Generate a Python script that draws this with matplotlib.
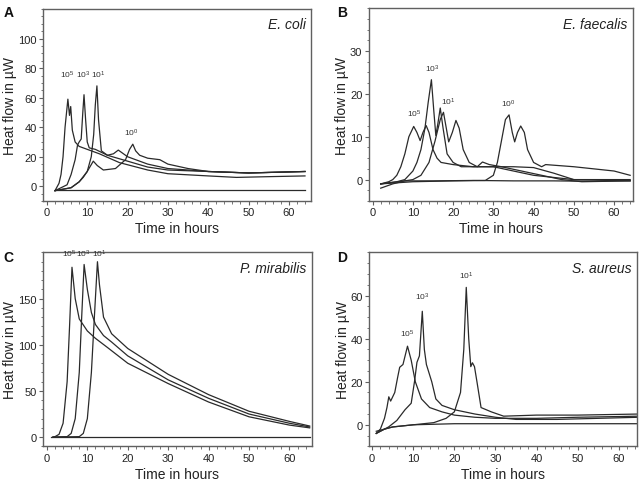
import matplotlib
matplotlib.use("Agg")
import matplotlib.pyplot as plt
from matplotlib.ticker import MultipleLocator

plt.rcParams['font.family'] = ['Liberation Sans', 'DejaVu Sans']
plt.rcParams['mathtext.fontset'] = 'custom'
plt.rcParams['mathtext.rm'] = 'Liberation Sans'

# ---------------- Panel A: E. coli ----------------
a_t_e5 = [2, 3, 3.5, 4, 4.5, 5.2, 5.6, 5.9, 6.3, 7, 8, 9, 10, 13, 18, 25, 30, 40, 47, 55, 64]
a_v_e5 = [-3, 2, 8, 20, 40, 59, 48, 54, 38, 30, 27, 26, 25, 22, 16, 11, 8.5, 7, 6, 6.5, 7]
a_t_e3 = [2, 5, 6, 7, 7.6, 8, 8.5, 8.9, 9.2, 9.6, 10, 10.5, 12, 15, 20, 25, 30, 40, 50, 64]
a_v_e3 = [-3, 1, 8, 18, 28, 30, 32, 50, 62, 45, 30, 26, 25, 21, 17, 13, 11, 10, 9, 10]
a_t_e1 = [2, 6, 8, 9, 10, 11, 11.6, 12, 12.4, 12.8, 13.5, 15, 16.5, 17.7, 20, 25, 30, 40, 50, 64]
a_v_e1 = [-3, -1, 3, 6, 10, 20, 35, 55, 68, 45, 24, 21, 22, 24.5, 20, 15, 12, 10, 9, 10]
a_t_e0 = [2, 6, 8, 10, 11.5, 12.5, 14, 17, 19.5, 20.5, 21.3, 22, 23, 25, 28, 30, 35, 40, 50, 64]
a_v_e0 = [-3, -1, 3, 10, 17, 14, 11, 12, 18, 25, 28.5, 24, 21, 19, 18, 15, 12, 10, 9, 10]
a_t_ctl = [2, 64]
a_v_ctl = [-2.5, -2.5]

# ---------------- Panel B: E. faecalis ----------------
b_t_e5 = [2, 4, 5, 6, 7, 8, 9, 10.2, 11, 11.8, 12.5, 13.3, 14, 15, 16, 17, 20, 25, 30, 35, 40, 45, 50, 64]
b_v_e5 = [-1, -0.5, 0, 1, 3, 6, 10, 12.4, 11, 9.1, 11, 12.6, 11, 7, 5, 4, 3.5, 3, 3, 3, 2.8, 1.5, 0, 0]
b_t_e3 = [2, 6, 8, 10, 11, 12, 13, 13.8, 14.6, 15.2, 15.7, 16.2, 16.8, 17.5, 18.5, 20, 22, 26, 30, 35, 40, 45, 50, 64]
b_v_e3 = [-1, -0.5, 0, 2, 4, 7, 12, 18, 23.3, 16, 10.3, 13, 16.7, 12, 6, 4, 3, 3, 3, 2, 1, 0.5, 0, -0.3]
b_t_e1 = [2, 8, 10, 12, 14, 15.5, 16.8, 17.6, 18.3, 18.9, 19.8, 20.7, 21.5, 22.5, 24, 26, 27.3, 29, 32, 37, 42, 47, 52, 64]
b_v_e1 = [-1, -0.3, 0, 1, 4, 9, 14, 15.7, 12, 8.8, 11, 13.8, 12, 7, 4, 3, 4.1, 3.5, 3, 2, 1, 0, -0.5, -0.3]
b_t_e0 = [2, 10, 20, 28, 30, 31, 32, 33, 33.9, 34.7, 35.3, 36, 36.8, 37.7, 38.5, 40, 42, 43, 50, 55, 60, 64]
b_v_e0 = [-1, -0.5, -0.3, -0.2, 1, 4, 9, 14, 15.1, 11, 8.8, 11, 12.5, 11, 7, 4, 3, 3.5, 3, 2.5, 2, 1]
b_t_ctl = [2, 5, 8, 15, 25, 35, 45, 55, 64]
b_v_ctl = [-2, -1, -0.3, -0.3, -0.2, -0.3, -0.3, -0.4, -0.2]

# ---------------- Panel C: P. mirabilis ----------------
c_t_e5 = [1.5, 2, 3, 4, 5, 5.6, 6.2, 7, 8, 10, 12, 15, 20, 30, 40, 50, 60, 65]
c_v_e5 = [0, 0.5, 3, 15, 60, 120, 184, 150, 128, 115, 107, 97, 80, 58, 38, 22, 13, 10]
c_t_e3 = [1.5, 5, 6, 7, 8, 8.6, 9.2, 10, 11, 12, 14, 16, 20, 30, 40, 50, 60, 65]
c_v_e3 = [0, 0.5, 4, 20, 70, 130, 187, 160, 135, 122, 110, 103, 88, 62, 42, 25, 15, 11]
c_t_e1 = [1.5, 8, 9, 10, 11, 11.8, 12.5, 13, 14, 16, 18, 20, 25, 30, 40, 50, 60, 65]
c_v_e1 = [0, 0.5, 4, 20, 70, 135, 190, 165, 130, 112, 104, 96, 82, 68, 46, 28, 17, 12]
c_t_ctl = [1, 65]
c_v_ctl = [0, 0]

# ---------------- Panel D: S. aureus ----------------
d_t_e5 = [1, 2, 3, 3.6, 4.05, 4.5, 5.5, 6.2, 6.7, 7.5, 8.6, 9.5, 10.5, 12, 14, 17, 20, 25, 30, 40, 50, 65]
d_v_e5 = [-4, -2, 3, 8, 13, 11, 15, 22, 26.7, 28, 36.5, 30, 20, 12, 8, 6, 4.5, 3.5, 3, 3, 3.5, 4]
d_t_e3 = [1, 3, 4, 6, 8, 9.5, 10.3, 10.9, 11.5, 12.2, 12.7, 13.2, 14.5, 15.5, 17, 20, 25, 30, 35, 45, 55, 65]
d_v_e3 = [-4, -2, -1, 2, 7, 10, 20, 29, 32, 52.7, 35, 28, 20, 12, 9, 7, 5, 3.5, 2.5, 2.5, 3, 3.5]
d_t_e1 = [1, 5, 10, 15, 18, 20, 21.5, 22.3, 22.9, 23.5, 24, 24.4, 24.9, 25.5, 26.5, 29, 32, 40, 50, 65]
d_v_e1 = [-3, -1, 0, 1, 3, 6, 15, 35, 63.8, 40, 27, 28.8, 27, 20, 8, 6, 4, 4.5, 4.5, 5]
d_t_ctl = [1, 3, 5, 10, 20, 40, 65]
d_v_ctl = [-4, -2, -1, 0, 0.5, 0.5, 0.5]

inoc = [r'$\mathregular{10^5}$', r'$\mathregular{10^3}$', r'$\mathregular{10^1}$', r'$\mathregular{10^0}$']

panels = [
    dict(letter='A', species='E. coli', pos=[0.067, 0.580, 0.419, 0.399], lx=0.005, ly=0.973,
         xlim=(-1, 65.5), ylim=(-10, 120), yticks=[0, 20, 40, 60, 80, 100], yminor=5,
         curves=[(a_t_e5, a_v_e5), (a_t_e3, a_v_e3), (a_t_e1, a_v_e1), (a_t_e0, a_v_e0), (a_t_ctl, a_v_ctl)],
         labels=[(5.0, 72, inoc[0]), (9.0, 72, inoc[1]), (12.6, 72, inoc[2]), (20.9, 33, inoc[3])]),
    dict(letter='B', species='E. faecalis', pos=[0.576, 0.580, 0.413, 0.401], lx=0.527, ly=0.973,
         xlim=(-1, 64.7), ylim=(-5, 40), yticks=[0, 10, 20, 30], yminor=2.5,
         curves=[(b_t_e5, b_v_e5), (b_t_e3, b_v_e3), (b_t_e1, b_v_e1), (b_t_e0, b_v_e0), (b_t_ctl, b_v_ctl)],
         labels=[(10.2, 14.2, inoc[0]), (14.7, 24.6, inoc[1]), (18.9, 16.9, inoc[2]), (33.8, 16.5, inoc[3])]),
    dict(letter='C', species='P. mirabilis', pos=[0.067, 0.070, 0.420, 0.403], lx=0.005, ly=0.464,
         xlim=(-1, 65.5), ylim=(-10, 200), yticks=[0, 50, 100, 150], yminor=10,
         curves=[(c_t_e5, c_v_e5), (c_t_e3, c_v_e3), (c_t_e1, c_v_e1), (c_t_ctl, c_v_ctl)],
         labels=[(5.4, 193, inoc[0]), (9.1, 193, inoc[1]), (12.9, 193, inoc[2])]),
    dict(letter='D', species='S. aureus', pos=[0.577, 0.070, 0.418, 0.403], lx=0.527, ly=0.464,
         xlim=(-0.7, 64.4), ylim=(-10, 80), yticks=[0, 20, 40, 60], yminor=5,
         curves=[(d_t_e5, d_v_e5), (d_t_e3, d_v_e3), (d_t_e1, d_v_e1), (d_t_ctl, d_v_ctl)],
         labels=[(8.5, 40, inoc[0]), (12.2, 57, inoc[1]), (22.9, 66.7, inoc[2])]),
]

fig = plt.figure(figsize=(6.4, 4.81), dpi=100)
frame_col = '#606060'
txt_col = '#222222'
for p in panels:
    ax = fig.add_axes(p['pos'])
    for t, v in p['curves']:
        ax.plot(t, v, color='#2a2a2a', lw=0.9)
    for x, y, s in p['labels']:
        ax.text(x, y, s, fontsize=6, ha='center', va='bottom', color='#333333')
    ax.set_xlim(*p['xlim'])
    ax.set_ylim(*p['ylim'])
    ax.set_xticks([0, 10, 20, 30, 40, 50, 60])
    ax.set_yticks(p['yticks'])
    ax.xaxis.set_minor_locator(MultipleLocator(2))
    ax.yaxis.set_minor_locator(MultipleLocator(p['yminor']))
    ax.tick_params(which='major', direction='out', length=3, width=0.8, color=frame_col,
                   labelsize=8, pad=1.5, labelcolor=txt_col)
    ax.tick_params(which='minor', direction='out', length=1.8, width=0.6, color=frame_col)
    for s in ax.spines.values():
        s.set_color(frame_col)
        s.set_linewidth(1.0)
    ax.set_xlabel('Time in hours', fontsize=10, labelpad=3, color=txt_col)
    ax.set_ylabel('Heat flow in µW', fontsize=10, labelpad=0.5, color=txt_col)
    ax.text(0.98, 0.92, p['species'], transform=ax.transAxes, ha='right', va='center',
            fontsize=10, style='italic', color=txt_col)
    fig.text(p['lx'], p['ly'], p['letter'], fontsize=10, fontweight='bold',
             ha='left', va='center', color='#111111')

fig.savefig('out.png', dpi=100)
